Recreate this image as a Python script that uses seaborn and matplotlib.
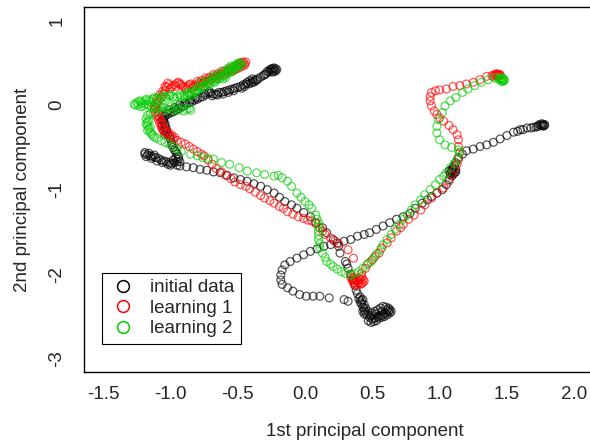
import numpy as np
import pandas as pd
import matplotlib
matplotlib.use('Agg')
import matplotlib.pyplot as plt
import seaborn as sns
from matplotlib.lines import Line2D

# PCA trajectories, (x, y) per point
init_pts = [
    (-0.22, 0.43), (-0.23, 0.41), (-0.24, 0.43), (-0.25, 0.40), (-0.26, 0.42), (-0.27, 0.39), (-0.29, 0.37),
    (-0.31, 0.35), (-0.33, 0.33), (-0.35, 0.31), (-0.37, 0.30), (-0.39, 0.28), (-0.40, 0.26), (-0.38, 0.27),
    (-0.42, 0.25), (-0.44, 0.25), (-0.46, 0.24), (-0.48, 0.22), (-0.50, 0.21), (-0.52, 0.20), (-0.54, 0.19),
    (-0.56, 0.18), (-0.58, 0.17), (-0.60, 0.16), (-0.62, 0.15), (-0.64, 0.15), (-0.66, 0.13), (-0.68, 0.13),
    (-0.70, 0.14), (-0.72, 0.14), (-0.74, 0.12), (-0.76, 0.10), (-0.78, 0.09), (-0.80, 0.07), (-0.82, 0.06),
    (-0.84, 0.04), (-0.86, 0.03), (-0.88, 0.01), (-0.90, -0.01), (-0.92, -0.02), (-0.94, -0.04), (-0.96, -0.06),
    (-0.98, -0.08), (-1.00, -0.09), (-1.02, -0.11), (-1.04, -0.13), (-1.05, -0.16), (-1.05, -0.19),
    (-1.04, -0.22), (-1.04, -0.25), (-1.03, -0.28), (-1.03, -0.31), (-1.02, -0.34), (-1.01, -0.37),
    (-1.00, -0.40), (-0.99, -0.44), (-0.99, -0.47), (-0.98, -0.50), (-0.97, -0.53), (-0.96, -0.55),
    (-0.95, -0.58), (-0.94, -0.61), (-0.94, -0.64), (-0.95, -0.67), (-0.97, -0.68), (-0.99, -0.69),
    (-1.01, -0.68), (-1.03, -0.67), (-1.05, -0.66), (-1.07, -0.65), (-1.09, -0.63), (-1.11, -0.62),
    (-1.13, -0.61), (-1.15, -0.60), (-1.17, -0.59), (-1.19, -0.58), (-1.19, -0.56),
    (-0.21, 0.42), (-0.22, 0.40), (-0.24, 0.39), (-0.23, 0.44), (-0.25, 0.43), (-0.28, 0.40), (-0.30, 0.36),
    (-0.36, 0.29), (-0.39, 0.31), (-0.41, 0.29), (-0.43, 0.27), (-0.45, 0.22), (-0.47, 0.20), (-0.53, 0.17),
    (-0.57, 0.15), (-0.61, 0.13), (-0.65, 0.12), (-0.69, 0.11), (-0.71, 0.16), (-0.75, 0.14), (-0.81, 0.09),
    (-0.85, 0.06), (-0.89, 0.03), (-0.93, 0.00), (-0.97, -0.03), (-1.01, -0.06), (-1.03, -0.09),
    (-1.06, -0.12), (-1.06, -0.18), (-1.06, -0.24), (-1.05, -0.30), (-1.04, -0.35), (-0.96, -0.62),
    (-0.98, -0.65), (-1.00, -0.71), (-1.02, -0.70), (-1.06, -0.68), (-1.10, -0.66), (-1.14, -0.63),
    (-1.18, -0.61), (-1.16, -0.57), (-1.12, -0.59), (-0.93, -0.67), (-0.95, -0.71),
    (-0.93, -0.72), (-0.88, -0.73), (-0.83, -0.74), (-0.78, -0.76), (-0.73, -0.77), (-0.68, -0.79),
    (-0.63, -0.80), (-0.58, -0.83), (-0.53, -0.86), (-0.48, -0.88), (-0.43, -0.90), (-0.38, -0.93),
    (-0.33, -0.96), (-0.28, -1.00), (-0.23, -1.04), (-0.19, -1.09), (-0.15, -1.14), (-0.10, -1.18),
    (-0.06, -1.22), (-0.01, -1.27), (0.04, -1.32), (0.08, -1.39), (0.13, -1.45), (0.16, -1.51),
    (0.21, -1.59), (0.25, -1.67), (0.26, -1.75), (0.30, -1.85), (0.31, -1.88),
    (0.32, -1.93), (0.34, -2.00), (0.36, -2.07), (0.37, -2.13), (0.38, -2.19), (0.39, -2.23), (0.41, -2.27),
    (0.42, -2.31), (0.42, -2.35), (0.43, -2.39), (0.44, -2.42), (0.45, -2.45), (0.46, -2.48), (0.48, -2.51),
    (0.50, -2.53), (0.52, -2.52), (0.54, -2.50), (0.56, -2.49), (0.58, -2.48), (0.60, -2.46), (0.62, -2.44),
    (0.63, -2.42), (0.62, -2.40), (0.60, -2.39), (0.58, -2.38), (0.56, -2.40), (0.54, -2.42), (0.52, -2.44),
    (0.50, -2.46), (0.47, -2.44), (0.45, -2.40), (0.44, -2.36), (0.43, -2.30),
    (0.47, -2.55), (0.49, -2.57), (0.51, -2.56), (0.53, -2.55), (0.55, -2.52), (0.57, -2.51), (0.59, -2.50),
    (0.61, -2.48), (0.63, -2.46), (0.64, -2.44), (0.61, -2.42), (0.57, -2.44), (0.44, -2.47), (0.43, -2.44),
    (0.41, -2.33), (0.40, -2.29), (0.53, -2.47), (0.49, -2.49),
    (0.32, -2.32), (0.29, -2.30), (0.18, -2.28), (0.11, -2.26), (0.06, -2.26), (0.01, -2.26), (-0.04, -2.24),
    (-0.09, -2.20), (-0.13, -2.16), (-0.17, -2.12), (-0.18, -2.07), (-0.18, -2.01), (-0.17, -1.95),
    (-0.15, -1.89), (-0.11, -1.85), (-0.06, -1.81), (-0.01, -1.77), (0.04, -1.73), (0.09, -1.70),
    (0.14, -1.67), (0.19, -1.65), (0.24, -1.63), (0.29, -1.61), (0.34, -1.59), (0.39, -1.55), (0.44, -1.53),
    (0.48, -1.51), (0.53, -1.47), (0.58, -1.43), (0.63, -1.39), (0.68, -1.35), (0.73, -1.32), (0.78, -1.28),
    (0.82, -1.22), (0.87, -1.16), (0.91, -1.12), (0.94, -1.08), (0.98, -1.04), (1.02, -1.00), (1.05, -0.94),
    (1.07, -0.88), (1.08, -0.82), (1.09, -0.78), (1.10, -0.74), (1.11, -0.80), (1.09, -0.76), (1.12, -0.68),
    (1.08, -0.80), (1.10, -0.82), (1.12, -0.76), (1.11, -0.72), (1.09, -0.84), (1.07, -0.78), (1.10, -0.77),
    (1.12, -0.79),
    (1.14, -0.62), (1.17, -0.58), (1.20, -0.54), (1.25, -0.52), (1.30, -0.49), (1.35, -0.47), (1.40, -0.44),
    (1.45, -0.40), (1.50, -0.36), (1.55, -0.32), (1.60, -0.29), (1.65, -0.27), (1.70, -0.26), (1.73, -0.25),
    (1.75, -0.24), (1.77, -0.23), (1.78, -0.23),
    (1.76, -0.22), (1.77, -0.25), (1.78, -0.24), (1.76, -0.24), (1.74, -0.23), (1.72, -0.26), (1.68, -0.27),
    (1.62, -0.29), (1.58, -0.31),
]

learn1_pts = [
    (-0.45, 0.49), (-0.46, 0.51), (-0.48, 0.50), (-0.47, 0.46), (-0.49, 0.44), (-0.51, 0.43), (-0.53, 0.45),
    (-0.55, 0.42), (-0.57, 0.40), (-0.59, 0.41), (-0.61, 0.38), (-0.63, 0.36), (-0.65, 0.37), (-0.67, 0.34),
    (-0.69, 0.32), (-0.71, 0.33), (-0.73, 0.30), (-0.75, 0.28), (-0.77, 0.29), (-0.79, 0.26), (-0.81, 0.24),
    (-0.83, 0.23), (-0.85, 0.25), (-0.87, 0.22), (-0.89, 0.21), (-0.91, 0.22), (-0.93, 0.25), (-0.95, 0.26),
    (-0.97, 0.24), (-0.99, 0.22), (-1.01, 0.24), (-1.03, 0.21), (-1.04, 0.17), (-1.05, 0.13), (-1.07, 0.09),
    (-1.09, 0.05), (-1.11, 0.02), (-1.12, -0.01), (-1.12, -0.05), (-1.11, -0.09), (-1.10, -0.13),
    (-1.09, -0.17), (-1.08, -0.21), (-1.07, -0.25), (-1.06, -0.29), (-1.04, -0.32), (-1.02, -0.35),
    (-1.00, -0.38), (-0.98, -0.40), (-0.95, -0.42), (-0.92, -0.44), (-0.89, -0.46), (-0.86, -0.49),
    (-0.44, 0.51), (-0.45, 0.47), (-0.47, 0.49), (-0.50, 0.47), (-0.52, 0.42), (-0.54, 0.40), (-0.56, 0.43),
    (-0.58, 0.38), (-0.60, 0.36), (-0.62, 0.40), (-0.64, 0.34), (-0.66, 0.32), (-0.68, 0.36), (-0.70, 0.30),
    (-0.72, 0.28), (-0.74, 0.32), (-0.76, 0.26), (-0.78, 0.24), (-0.80, 0.28), (-0.82, 0.22), (-0.84, 0.20),
    (-0.86, 0.24), (-0.88, 0.19), (-0.92, 0.24), (-0.94, 0.27), (-0.96, 0.22), (-1.00, 0.20), (-1.02, 0.26),
    (-1.04, 0.22), (-1.06, 0.16), (-1.08, 0.12), (-1.10, 0.08), (-1.10, 0.02), (-1.11, -0.03), (-1.09, -0.07),
    (-1.09, -0.11), (-1.08, -0.15), (-1.07, -0.19), (-1.06, -0.23), (-1.05, -0.27), (-1.03, -0.30),
    (-1.01, -0.33), (-0.99, -0.36), (-0.97, -0.38),
    (-0.83, -0.52), (-0.80, -0.55), (-0.77, -0.58), (-0.75, -0.60), (-0.72, -0.65), (-0.69, -0.70),
    (-0.66, -0.75), (-0.62, -0.79), (-0.59, -0.83), (-0.55, -0.87), (-0.52, -0.91), (-0.48, -0.94),
    (-0.44, -0.96), (-0.41, -0.99), (-0.37, -1.03), (-0.33, -1.07), (-0.30, -1.10), (-0.26, -1.13),
    (-0.23, -1.16), (-0.19, -1.20), (-0.16, -1.22), (-0.13, -1.26), (-0.09, -1.29), (-0.05, -1.32),
    (-0.01, -1.34), (0.02, -1.36), (0.05, -1.37), (0.08, -1.40), (0.11, -1.45), (0.13, -1.49), (0.15, -1.53),
    (0.19, -1.57), (0.22, -1.61), (0.25, -1.64), (0.32, -1.71), (0.36, -1.81),
    (0.34, -2.03), (0.35, -2.07), (0.37, -2.10), (0.39, -2.12), (0.41, -2.12), (0.43, -2.10), (0.44, -2.08),
    (0.40, -2.05), (0.38, -2.07), (0.36, -2.10), (0.42, -2.03),
    (0.35, -2.05), (0.37, -2.13), (0.40, -2.10), (0.42, -2.11), (0.39, -2.08), (0.41, -2.06), (0.43, -2.06),
    (0.36, -2.04),
    (0.42, -1.99), (0.45, -1.93), (0.47, -1.87), (0.50, -1.83), (0.52, -1.79), (0.55, -1.75), (0.57, -1.69),
    (0.61, -1.63), (0.64, -1.57), (0.68, -1.49), (0.71, -1.45), (0.73, -1.41), (0.77, -1.35), (0.81, -1.30),
    (0.86, -1.24), (0.89, -1.18), (0.94, -1.10), (0.98, -1.04), (1.03, -0.98), (1.07, -0.90), (1.09, -0.82),
    (1.11, -0.76), (1.13, -0.70), (1.14, -0.64), (1.15, -0.56), (1.14, -0.49), (1.14, -0.41), (1.13, -0.35),
    (1.10, -0.29), (1.07, -0.24), (1.03, -0.19), (1.00, -0.15), (0.98, -0.11), (0.96, -0.07), (0.94, -0.01),
    (0.93, 0.05), (0.93, 0.10), (0.94, 0.15), (0.97, 0.17), (1.00, 0.18), (1.05, 0.19), (1.10, 0.22),
    (1.15, 0.23), (1.20, 0.25), (1.25, 0.27), (1.30, 0.30), (1.35, 0.34), (1.39, 0.35), (1.42, 0.37),
    (1.44, 0.36), (1.45, 0.35), (1.43, 0.35),
    (1.42, 0.35), (1.43, 0.37), (1.44, 0.34), (1.41, 0.36), (1.40, 0.34), (1.45, 0.36),
]

learn2_pts = [
    (-0.48, 0.47), (-0.50, 0.49), (-0.51, 0.46), (-0.52, 0.44), (-0.54, 0.42), (-0.56, 0.40), (-0.58, 0.37),
    (-0.60, 0.35), (-0.62, 0.33), (-0.64, 0.31), (-0.66, 0.30), (-0.68, 0.28), (-0.70, 0.27), (-0.72, 0.26),
    (-0.74, 0.25), (-0.76, 0.22), (-0.78, 0.20), (-0.80, 0.18), (-0.82, 0.16), (-0.84, 0.14), (-0.86, 0.13),
    (-0.88, 0.12), (-0.90, 0.11), (-0.92, 0.10), (-0.95, 0.10), (-0.98, 0.10), (-1.01, 0.11), (-1.04, 0.10),
    (-1.07, 0.09), (-1.10, 0.08), (-1.13, 0.07), (-1.16, 0.06), (-1.19, 0.05), (-1.22, 0.04), (-1.25, 0.03),
    (-1.27, 0.01), (-1.24, 0.00), (-1.20, -0.01), (-1.16, 0.00), (-1.12, -0.02), (-1.08, -0.01),
    (-1.04, -0.03), (-1.00, -0.02), (-0.96, -0.04), (-0.92, -0.03), (-0.88, -0.05), (-0.85, -0.06),
    (-0.90, -0.07), (-0.98, -0.06), (-1.06, -0.07), (-1.13, -0.09), (-1.17, -0.12), (-1.18, -0.16),
    (-1.17, -0.20), (-1.17, -0.24), (-1.16, -0.28), (-1.15, -0.32), (-1.13, -0.36), (-1.10, -0.39),
    (-1.07, -0.42), (-1.04, -0.44), (-1.01, -0.46), (-0.98, -0.49), (-0.95, -0.52), (-0.92, -0.55),
    (-0.85, -0.58), (-0.80, -0.60), (-0.76, -0.62), (-0.72, -0.63),
    (-0.55, 0.46), (-0.57, 0.44), (-0.61, 0.40), (-0.65, 0.36), (-0.69, 0.33), (-0.73, 0.30), (-0.77, 0.27),
    (-0.47, 0.49), (-0.49, 0.46), (-0.49, 0.50), (-0.51, 0.48), (-0.53, 0.46), (-0.53, 0.41), (-0.55, 0.39),
    (-0.57, 0.41), (-0.59, 0.39), (-0.59, 0.33), (-0.61, 0.31), (-0.63, 0.35), (-0.67, 0.33), (-0.67, 0.27),
    (-0.71, 0.24), (-0.75, 0.21), (-0.79, 0.22), (-0.81, 0.15), (-0.83, 0.18), (-0.85, 0.11), (-0.87, 0.15),
    (-0.89, 0.09), (-0.93, 0.12), (-0.97, 0.08), (-1.00, 0.12), (-1.03, 0.08), (-1.06, 0.11), (-1.09, 0.06),
    (-1.12, 0.09), (-1.15, 0.04), (-1.18, 0.07), (-1.21, 0.02), (-1.23, 0.05), (-1.26, 0.00), (-1.22, -0.02),
    (-1.18, 0.01), (-1.14, -0.02), (-1.10, -0.04), (-1.06, -0.03), (-1.02, -0.05), (-0.94, -0.06),
    (-0.86, -0.04), (-1.15, -0.11), (-1.16, -0.18), (-1.18, -0.22), (-1.15, -0.26), (-1.17, -0.30),
    (-1.14, -0.34), (-1.12, -0.38),
    (-0.68, -0.64), (-0.62, -0.68), (-0.56, -0.70), (-0.49, -0.74), (-0.43, -0.78), (-0.36, -0.80),
    (-0.30, -0.82), (-0.23, -0.84), (-0.20, -0.83), (-0.17, -0.86), (-0.13, -0.90), (-0.10, -0.96),
    (-0.06, -1.04), (-0.03, -1.09), (0.00, -1.14), (0.03, -1.18), (0.05, -1.22), (0.08, -1.30), (0.09, -1.35),
    (0.10, -1.39), (0.10, -1.44), (0.10, -1.49), (0.10, -1.54), (0.10, -1.59), (0.11, -1.64), (0.11, -1.69),
    (0.13, -1.75), (0.15, -1.80), (0.16, -1.85), (0.19, -1.88), (0.21, -1.91), (0.24, -1.94), (0.27, -1.97),
    (0.30, -1.99), (0.34, -2.01), (0.37, -1.99), (0.40, -1.97), (0.43, -1.93), (0.46, -1.89), (0.49, -1.85),
    (0.51, -1.81), (0.53, -1.76), (0.56, -1.71), (0.58, -1.65), (0.61, -1.59), (0.64, -1.53), (0.67, -1.47),
    (0.70, -1.41), (0.73, -1.35), (0.76, -1.30), (0.79, -1.24), (0.82, -1.18), (0.86, -1.12), (0.89, -1.06),
    (0.93, -1.00), (0.97, -0.94), (1.00, -0.88), (1.03, -0.84), (1.05, -0.80), (1.08, -0.74), (1.11, -0.69),
    (1.13, -0.64), (1.15, -0.56), (1.14, -0.53), (1.09, -0.50), (1.04, -0.47), (1.00, -0.41), (0.98, -0.33),
    (0.98, -0.25), (0.99, -0.17), (1.02, -0.09), (1.04, -0.01), (1.08, 0.05), (1.12, 0.09), (1.17, 0.15),
    (1.21, 0.19), (1.26, 0.23), (1.31, 0.27), (1.36, 0.30), (1.41, 0.32), (1.45, 0.32), (1.47, 0.30),
    (1.48, 0.29), (1.46, 0.31),
    (1.46, 0.28), (1.48, 0.30), (1.47, 0.32), (1.45, 0.30), (1.47, 0.28), (1.44, 0.31),
]

series_names = ['initial data', 'learning 1', 'learning 2']
series_colors = ['black', '#FF0000', '#00CD00']
xtick_vals = [-1.5, -1.0, -0.5, 0.0, 0.5, 1.0, 1.5, 2.0]
xtick_labels = ['-1.5', '-1.0', '-0.5', '0.0', '0.5', '1.0', '1.5', '2.0']
ytick_vals = [-3, -2, -1, 0, 1]
ytick_labels = ['-3', '-2', '-1', '0', '1']

frames = []
for name, pts in zip(series_names, [init_pts, learn1_pts, learn2_pts]):
    d = pd.DataFrame(pts, columns=['x', 'y'])
    d['series'] = name
    frames.append(d)
df = pd.concat(frames, ignore_index=True)

sns.set_style('white')
plt.rcParams['font.family'] = ['Liberation Sans', 'DejaVu Sans']
plt.rcParams['axes.unicode_minus'] = False

fig = plt.figure(figsize=(5.9, 4.47), dpi=100)
ax = fig.add_axes([0.1429, 0.1671, 0.8622, 0.8172])

for name, col in zip(series_names, series_colors):
    sub = df[df['series'] == name]
    sns.scatterplot(x=sub['x'], y=sub['y'], ax=ax, color=col, facecolors='none',
                    edgecolor=col, s=32, linewidth=0.9, alpha=0.65, legend=False)

ax.set_xlim(-1.64, 2.14)
ax.set_ylim(-3.16, 1.16)
ax.set_xticks(xtick_vals)
ax.set_xticklabels(xtick_labels)
ax.set_yticks(ytick_vals)
ax.set_yticklabels(ytick_labels, rotation=90, va='center')
ax.tick_params(axis='both', direction='out', length=6.5, width=0.8, labelsize=13.5, color='black')
ax.tick_params(axis='x', pad=3)
ax.tick_params(axis='y', pad=7)
for sp in ax.spines.values():
    sp.set_color('black')
    sp.set_linewidth(1.0)

ax.set_xlabel('1st principal component', fontsize=13.5)
ax.set_ylabel('2nd principal component', fontsize=13.5)
ax.xaxis.set_label_coords(0.552, -0.139)
ax.yaxis.set_label_coords(-0.104, 0.5)

handles = [Line2D([], [], linestyle='none', marker='o', markersize=8.5, markerfacecolor='none',
                  markeredgecolor=c, markeredgewidth=1.1) for c in series_colors]
leg = ax.legend(handles, series_names, loc='lower left', bbox_to_anchor=(0.0348, 0.0775),
                borderaxespad=0, fontsize=13.5, frameon=True, fancybox=False, framealpha=1,
                edgecolor='black', borderpad=0.35, handlelength=1.5, handletextpad=0.7,
                labelspacing=0.18)
leg.get_frame().set_linewidth(0.8)

fig.savefig('out.png', dpi=100)
